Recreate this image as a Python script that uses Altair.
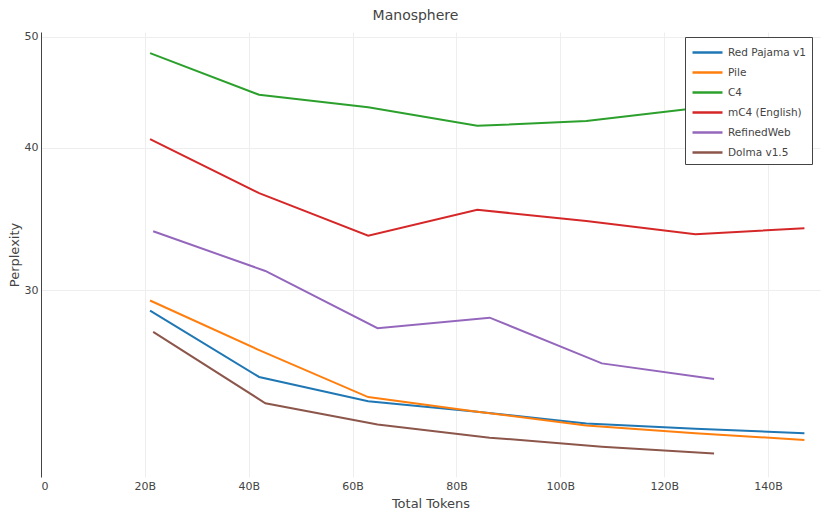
import altair as alt
import pandas as pd

series_names = ["Red Pajama v1", "Pile", "C4", "mC4 (English)", "RefinedWeb", "Dolma v1.5"]
series_colors = ["#1f77b4", "#ff7f0e", "#2ca02c", "#d62728", "#9467bd", "#8c564b"]

tokens_a = [21, 42, 63, 84, 105, 126, 147]
tokens_b = [21.6, 43.2, 64.8, 86.4, 108, 129.6]

red_pajama = [28.8, 25.2, 24.0, 23.5, 22.95, 22.7, 22.5]
pile = [29.4, 26.6, 24.2, 23.5, 22.85, 22.5, 22.2]
c4 = [48.4, 44.5, 43.4, 41.8, 42.2, 43.3, 44.0]
mc4 = [40.7, 36.5, 33.5, 35.3, 34.5, 33.6, 34.0]
refinedweb = [33.8, 31.2, 27.8, 28.4, 25.9, 25.1]
dolma = [27.6, 23.9, 22.9, 22.3, 21.9, 21.6]

series_x = [tokens_a, tokens_a, tokens_a, tokens_a, tokens_b, tokens_b]
series_y = [red_pajama, pile, c4, mc4, refinedweb, dolma]

rows = []
for name, xs, ys in zip(series_names, series_x, series_y):
    for i, (xv, yv) in enumerate(zip(xs, ys)):
        rows.append({"series": name, "tokens": xv, "perplexity": yv, "order": i})
df = pd.DataFrame(rows)

font = "DejaVu Sans"
txt = "#444444"

chart = alt.Chart(df).mark_line(strokeWidth=2).encode(
    x=alt.X("tokens:Q",
            scale=alt.Scale(domain=[0, 150], nice=False, zero=False),
            axis=alt.Axis(values=[0, 20, 40, 60, 80, 100, 120, 140],
                          labelExpr="datum.value == 0 ? '0' : datum.value + 'B'",
                          title="Total Tokens", domain=False, ticks=False,
                          grid=True, gridColor="#eeeeee",
                          labelPadding=3, titlePadding=6,
                          labelFont=font, labelFontSize=11, labelColor=txt,
                          titleFont=font, titleFontSize=13, titleFontWeight="normal",
                          titleColor=txt)),
    y=alt.Y("perplexity:Q",
            scale=alt.Scale(type="log", domain=[20.6, 50.5], nice=False, zero=False),
            axis=alt.Axis(values=[30, 40, 50], format="d",
                          title="Perplexity", domain=True, domainColor="#444444",
                          domainWidth=1, ticks=False, grid=True, gridColor="#eeeeee",
                          labelPadding=3, titlePadding=3,
                          labelFont=font, labelFontSize=11, labelColor=txt,
                          titleFont=font, titleFontSize=13, titleFontWeight="normal",
                          titleColor=txt)),
    color=alt.Color("series:N",
                    scale=alt.Scale(domain=series_names, range=series_colors),
                    legend=alt.Legend(title=None, orient="none", legendX=644, legendY=5,
                                      symbolType="M-1,0H2.75", symbolSize=256,
                                      symbolStrokeWidth=2.5, rowPadding=5,
                                      labelOffset=18, labelFont=font, labelFontSize=10.5,
                                      labelColor=txt, fillColor="white",
                                      strokeColor="#444444", padding=6)),
    order="order:Q",
).properties(
    width=779, height=445,
    title=alt.Title("Manosphere", font=font, fontSize=14, fontWeight="normal",
                    color=txt, anchor="middle", dx=-15, offset=8),
    autosize=alt.AutoSizeParams(type="none"),
    padding={"left": 33, "top": 24, "right": 2, "bottom": 34},
).configure_view(stroke=None)

chart.save("out.html", embed_options={"renderer": "svg", "actions": False})
